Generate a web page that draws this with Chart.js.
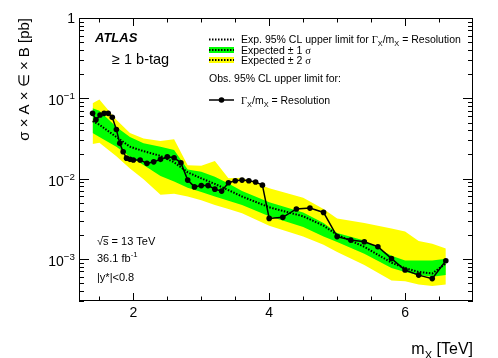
<!DOCTYPE html>
<html>
<head>
<meta charset="utf-8">
<script src="https://cdn.jsdelivr.net/npm/chart.js@4.4.1/dist/chart.umd.min.js"></script>
<style>
  body { margin: 0; background: #fff; }
  #wrap { width: 498px; height: 358px; }
</style>
</head>
<body>
<div id="wrap"><canvas id="limitChart" width="498" height="358"></canvas></div>
<script>
// Observed limit (Gamma/m = resolution)
const obsMass = [1.40, 1.45, 1.51, 1.57, 1.63, 1.69, 1.75, 1.80, 1.85, 1.90, 1.95, 2.0,
    2.1, 2.2, 2.3, 2.4, 2.5, 2.6, 2.7, 2.8, 2.9, 3.0, 3.1, 3.2, 3.3, 3.4, 3.5, 3.6, 3.7, 3.8, 3.9, 4.0,
    4.2, 4.4, 4.6, 4.8, 5.0, 5.2, 5.4, 5.6, 5.8, 6.0, 6.2, 6.4, 6.6];
const obsLimit = [0.065, 0.054, 0.062, 0.065, 0.065, 0.058, 0.041, 0.0275, 0.0216, 0.018, 0.0174, 0.0171,
    0.0171, 0.0155, 0.0162, 0.0174, 0.0187, 0.0182, 0.0158, 0.0096, 0.0079, 0.0082, 0.0082, 0.0074, 0.0070,
    0.0089, 0.0094, 0.0096, 0.0094, 0.0091, 0.0083, 0.0032,
    0.0033, 0.0042, 0.0043, 0.0038, 0.0019, 0.00172, 0.00164, 0.00142, 0.00101, 0.00073, 0.00063, 0.00057, 0.00095];

// Expected limit and bands
const expMass   = [1.40, 1.50, 1.75, 1.95, 2.15, 2.40, 2.60, 2.80, 3.00, 3.20, 3.40, 3.60, 4.00, 4.50, 4.80, 5.00, 5.40, 5.80, 6.00, 6.20, 6.40, 6.60];
const expLimit  = [0.052, 0.047, 0.033, 0.025, 0.022, 0.0192, 0.0160, 0.0120, 0.0101, 0.0086, 0.0072, 0.0060, 0.0044, 0.0034, 0.0026, 0.0020, 0.00142, 0.00090, 0.00077, 0.00069, 0.00066, 0.00088];
const expMinus1 = [0.037, 0.033, 0.025, 0.0187, 0.0148, 0.0108, 0.0092, 0.0077, 0.0068, 0.0060, 0.0053, 0.0047, 0.0034, 0.0025, 0.0019, 0.00163, 0.00116, 0.00077, 0.00069, 0.00063, 0.00060, 0.00063];
const expPlus1  = [0.075, 0.070, 0.044, 0.033, 0.0276, 0.025, 0.0227, 0.0130, 0.0122, 0.0106, 0.0087, 0.0070, 0.0051, 0.0038, 0.0028, 0.0021, 0.0017, 0.0011, 0.00096, 0.00096, 0.00096, 0.00101];
const expMinus2 = [0.027, 0.028, 0.019, 0.0134, 0.0098, 0.0063, 0.0065, 0.0060, 0.0054, 0.0047, 0.0042, 0.0037, 0.0026, 0.0019, 0.0015, 0.00122, 0.00084, 0.00054, 0.00053, 0.00048, 0.00046, 0.00048];
const expPlus2  = [0.087, 0.097, 0.054, 0.037, 0.0317, 0.0294, 0.031, 0.0147, 0.0145, 0.0166, 0.0101, 0.0103, 0.0076, 0.0058, 0.0042, 0.0032, 0.0028, 0.0024, 0.0022, 0.00168, 0.00155, 0.00135];

// Axis ticks
const xMajorTicks = [2, 4, 6];
const xTickLabels = ['2', '4', '6'];
const yDecades = [0, -1, -2, -3];

const pts = (xs, ys) => xs.map((x, i) => ({ x: x, y: ys[i] }));

const FONT = '"Liberation Sans", Arial, Helvetica, sans-serif';
const SERIF = '"Liberation Serif", "Times New Roman", serif';

// draw a run of text pieces, with sub/superscripts
function richText(ctx, x, y, parts, size, align) {
    let widths = parts.map(p => {
        let s = p.sub || p.sup ? size * 0.7 : size;
        ctx.font = (p.style || '') + ' ' + s + 'px ' + (p.serif ? SERIF : FONT);
        return ctx.measureText(p.t).width;
    });
    let total = widths.reduce((a, b) => a + b, 0);
    let cx = align === 'right' ? x - total : x;
    ctx.textAlign = 'left';
    ctx.textBaseline = 'alphabetic';
    parts.forEach((p, i) => {
        let s = p.sub || p.sup ? size * 0.7 : size;
        ctx.font = (p.style || '') + ' ' + s + 'px ' + (p.serif ? SERIF : FONT);
        let dy = p.sub ? size * 0.3 : (p.sup ? -size * 0.42 : 0);
        ctx.fillText(p.t, cx, y + dy);
        cx += widths[i];
    });
    return cx;
}

const framePlugin = {
    id: 'frame',
    afterDraw(chart) {
        const ctx = chart.ctx;
        const a = chart.chartArea;
        const xs = chart.scales.x, ys = chart.scales.y;
        ctx.save();
        ctx.strokeStyle = '#000';
        ctx.fillStyle = '#000';
        ctx.lineWidth = 1;
        ctx.strokeRect(Math.round(a.left) + 0.5, Math.round(a.top) + 0.5,
            Math.round(a.right - a.left) - 1, Math.round(a.bottom - a.top) - 1);

        // x ticks
        ctx.beginPath();
        for (let v = 1.5; v <= 6.51; v += 0.5) {
            let px = Math.round(xs.getPixelForValue(v)) + 0.5;
            let len = xMajorTicks.includes(v) ? 8 : 4.5;
            ctx.moveTo(px, a.bottom); ctx.lineTo(px, a.bottom - len);
            ctx.moveTo(px, a.top); ctx.lineTo(px, a.top + len);
        }
        // y ticks
        for (let k = -4; k <= 0; k++) {
            for (let m = 1; m <= 9; m++) {
                let v = m * Math.pow(10, k);
                if (v < ys.min * 0.999 || v > ys.max * 1.001) continue;
                let py = Math.round(ys.getPixelForValue(v)) + 0.5;
                let len = m === 1 ? 10 : 5;
                ctx.moveTo(a.left, py); ctx.lineTo(a.left + len, py);
                ctx.moveTo(a.right, py); ctx.lineTo(a.right - len, py);
            }
        }
        ctx.stroke();

        // tick labels
        ctx.font = '14px ' + FONT;
        ctx.textAlign = 'center';
        ctx.textBaseline = 'middle';
        xMajorTicks.forEach((v, i) => {
            ctx.fillText(xTickLabels[i], xs.getPixelForValue(v), 313);
        });
        yDecades.forEach(k => {
            let py = ys.getPixelForValue(Math.pow(10, k));
            if (k === 0) {
                richText(ctx, 75, py + 5, [{ t: '1' }], 14, 'right');
            } else {
                richText(ctx, 75, py + 7, [{ t: '10' }, { t: '\u2212' + (-k), sup: true }], 14, 'right');
            }
        });

        // axis titles
        richText(ctx, 473, 354, [{ t: 'm' }, { t: 'X', sub: true }, { t: ' [TeV]' }], 16, 'right');
        ctx.save();
        ctx.translate(29, 18);
        ctx.rotate(-Math.PI / 2);
        richText(ctx, 0, 0, [{ t: '\u03c3 \u00d7 A \u00d7 \u2208 \u00d7 B [pb]' }], 15, 'right');
        ctx.restore();

        // labels
        richText(ctx, 95, 42, [{ t: 'ATLAS', style: 'italic bold' }], 13, 'left');
        richText(ctx, 112, 64, [{ t: '\u2265 1 b-tag' }], 14.5, 'left');
        // sqrt(s) with overbar
        ctx.font = '11px ' + FONT;
        let rootW = ctx.measureText('\u221a').width;
        let sW = ctx.measureText('s').width;
        richText(ctx, 97, 245, [{ t: '\u221as = 13 TeV' }], 11, 'left');
        ctx.lineWidth = 0.8;
        ctx.beginPath(); ctx.moveTo(97 + rootW - 0.5, 236.5); ctx.lineTo(97 + rootW + sW, 236.5); ctx.stroke();
        richText(ctx, 97, 262, [{ t: '36.1 fb' }, { t: '-1', sup: true }], 11, 'left');
        richText(ctx, 97, 281, [{ t: '|y*|<0.8' }], 11, 'left');

        // legend
        const lx0 = 209, lx1 = 234, tx = 241;
        ctx.setLineDash([1.5, 1.5]);
        ctx.lineWidth = 2;
        ctx.beginPath(); ctx.moveTo(lx0, 39.5); ctx.lineTo(lx1, 39.5); ctx.stroke();
        ctx.fillStyle = '#00ff00'; ctx.fillRect(lx0, 47, lx1 - lx0, 6);
        ctx.fillStyle = '#ffff00'; ctx.fillRect(lx0, 57, lx1 - lx0, 6);
        ctx.beginPath(); ctx.moveTo(lx0, 50); ctx.lineTo(lx1, 50); ctx.stroke();
        ctx.beginPath(); ctx.moveTo(lx0, 60); ctx.lineTo(lx1, 60); ctx.stroke();
        ctx.setLineDash([]);
        ctx.lineWidth = 1.5;
        ctx.beginPath(); ctx.moveTo(lx0, 100); ctx.lineTo(lx1, 100); ctx.stroke();
        ctx.fillStyle = '#000';
        ctx.beginPath(); ctx.arc((lx0 + lx1) / 2, 100, 2.8, 0, 2 * Math.PI); ctx.fill();

        const ls = 10.5;
        richText(ctx, tx, 43, [{ t: 'Exp. 95% CL upper limit for ' }, { t: '\u0393', serif: true },
            { t: 'X', sub: true }, { t: '/m' }, { t: 'X', sub: true }, { t: ' = Resolution' }], ls, 'left');
        richText(ctx, tx, 54, [{ t: 'Expected \u00b1 1 ' }, { t: '\u03c3', serif: true }], ls, 'left');
        richText(ctx, tx, 64, [{ t: 'Expected \u00b1 2 ' }, { t: '\u03c3', serif: true }], ls, 'left');
        richText(ctx, lx0, 82, [{ t: 'Obs. 95% CL upper limit for:' }], ls, 'left');
        richText(ctx, tx, 104, [{ t: '\u0393', serif: true }, { t: 'X', sub: true }, { t: '/m' },
            { t: 'X', sub: true }, { t: ' = Resolution' }], ls, 'left');
        ctx.restore();
    }
};

const limitChart = new Chart(document.getElementById('limitChart'), {
    type: 'line',
    data: {
        datasets: [{
            label: 'Observed',
            data: pts(obsMass, obsLimit),
            borderColor: '#000',
            backgroundColor: '#000',
            borderWidth: 1.5,
            pointRadius: 2.8,
            pointBorderWidth: 0,
            fill: false
        }, {
            label: 'Expected',
            data: pts(expMass, expLimit),
            borderColor: '#000',
            borderWidth: 2,
            borderDash: [1.5, 1.5],
            pointRadius: 0,
            fill: false
        }, {
            label: '+1 sigma',
            data: pts(expMass, expPlus1),
            borderWidth: 0,
            pointRadius: 0,
            backgroundColor: '#00ff00',
            fill: '+1'
        }, {
            label: '-1 sigma',
            data: pts(expMass, expMinus1),
            borderWidth: 0,
            pointRadius: 0,
            fill: false
        }, {
            label: '+2 sigma',
            data: pts(expMass, expPlus2),
            borderWidth: 0,
            pointRadius: 0,
            backgroundColor: '#ffff00',
            fill: '+1'
        }, {
            label: '-2 sigma',
            data: pts(expMass, expMinus2),
            borderWidth: 0,
            pointRadius: 0,
            fill: false
        }]
    },
    options: {
        responsive: false,
        animation: false,
        layout: { padding: { left: 79, right: 25, top: 18, bottom: 57 } },
        elements: { line: { tension: 0 } },
        scales: {
            x: {
                type: 'linear',
                min: 1.2,
                max: 7.0,
                ticks: { display: false },
                grid: { display: false },
                border: { display: false },
                afterFit: s => { s.height = 0; }
            },
            y: {
                type: 'logarithmic',
                min: 3e-4,
                max: 1,
                ticks: { display: false },
                grid: { display: false },
                border: { display: false },
                afterFit: s => { s.width = 0; }
            }
        },
        plugins: {
            legend: { display: false },
            tooltip: { enabled: false }
        }
    },
    plugins: [framePlugin]
});
</script>
</body>
</html>
